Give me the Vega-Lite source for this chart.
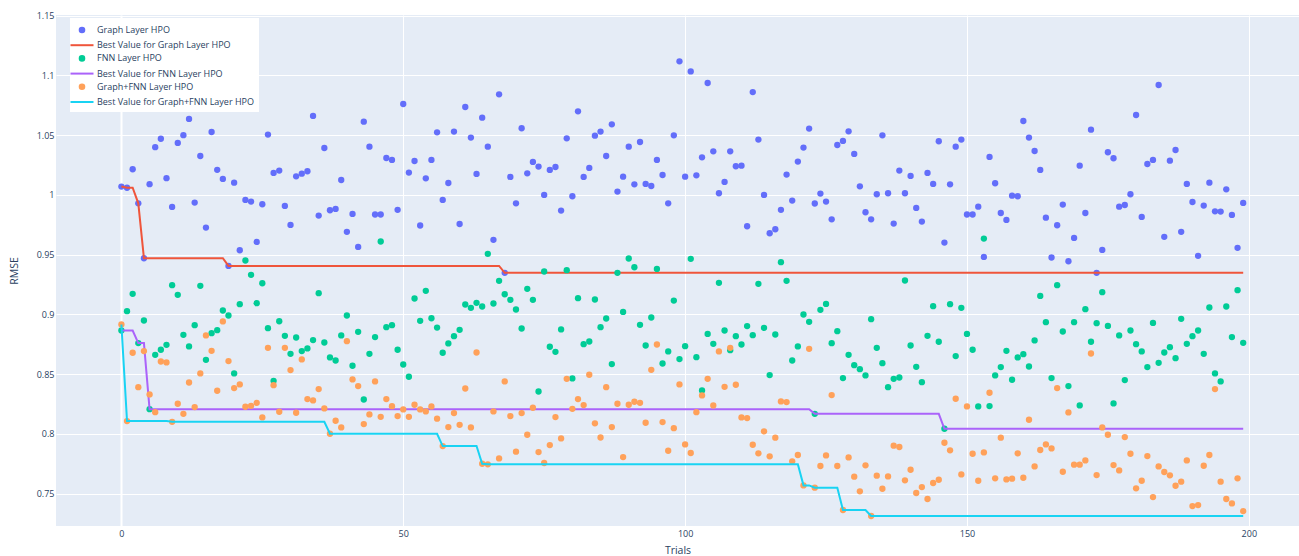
{
"$schema": "https://vega.github.io/schema/vega-lite/v6.json",
"width": 1243,
"height": 511,
"autosize": {"type": "none"},
"padding": {"left": 56, "top": 15, "right": 0, "bottom": 30},
"background": "white",
"config": {"view": {"fill": "#E5ECF6", "stroke": null}, "font": "Open Sans"},
"data": {"values": [
{"t":0,"g":1.007,"gb":1.007,"f":0.8865,"fb":0.8865,"h":0.8916,"hb":0.8916},
{"t":1,"g":1.006,"gb":1.006,"f":0.9027,"fb":0.8865,"h":0.8107,"hb":0.8107},
{"t":2,"g":1.0215,"gb":1.006,"f":0.9172,"fb":0.8865,"h":0.8679,"hb":0.8107},
{"t":3,"g":0.993,"gb":0.993,"f":0.876,"fb":0.876,"h":0.8391,"hb":0.8107},
{"t":4,"g":0.947,"gb":0.947,"f":0.8949,"fb":0.876,"h":0.8693,"hb":0.8107},
{"t":5,"g":1.009,"gb":0.947,"f":0.8207,"fb":0.8207,"h":0.833,"hb":0.8107},
{"t":6,"g":1.04,"gb":0.947,"f":0.8662,"fb":0.8207,"h":0.8182,"hb":0.8107},
{"t":7,"g":1.047,"gb":0.947,"f":0.8704,"fb":0.8207,"h":0.8606,"hb":0.8107},
{"t":8,"g":1.014,"gb":0.947,"f":0.8745,"fb":0.8207,"h":0.8598,"hb":0.8107},
{"t":9,"g":0.99,"gb":0.947,"f":0.9245,"fb":0.8207,"h":0.8101,"hb":0.8101},
{"t":10,"g":1.0435,"gb":0.947,"f":0.9164,"fb":0.8207,"h":0.8252,"hb":0.8101},
{"t":11,"g":1.05,"gb":0.947,"f":0.8829,"fb":0.8207,"h":0.8168,"hb":0.8101},
{"t":12,"g":1.0636,"gb":0.947,"f":0.8732,"fb":0.8207,"h":0.843,"hb":0.8101},
{"t":13,"g":0.9936,"gb":0.947,"f":0.891,"fb":0.8207,"h":0.8224,"hb":0.8101},
{"t":14,"g":1.0326,"gb":0.947,"f":0.9239,"fb":0.8207,"h":0.8506,"hb":0.8101},
{"t":15,"g":0.9727,"gb":0.947,"f":0.862,"fb":0.8207,"h":0.8824,"hb":0.8101},
{"t":16,"g":1.0527,"gb":0.947,"f":0.8843,"fb":0.8207,"h":0.8695,"hb":0.8101},
{"t":17,"g":1.021,"gb":0.947,"f":0.8868,"fb":0.8207,"h":0.8361,"hb":0.8101},
{"t":18,"g":1.0134,"gb":0.947,"f":0.9033,"fb":0.8207,"h":0.8941,"hb":0.8101},
{"t":19,"g":0.9406,"gb":0.9406,"f":0.8991,"fb":0.8207,"h":0.8609,"hb":0.8101},
{"t":20,"g":1.0103,"gb":0.9406,"f":0.8506,"fb":0.8207,"h":0.8383,"hb":0.8101},
{"t":21,"g":0.9537,"gb":0.9406,"f":0.9086,"fb":0.8207,"h":0.8414,"hb":0.8101},
{"t":22,"g":0.9958,"gb":0.9406,"f":0.9451,"fb":0.8207,"h":0.8227,"hb":0.8101},
{"t":23,"g":0.9944,"gb":0.9406,"f":0.9331,"fb":0.8207,"h":0.8235,"hb":0.8101},
{"t":24,"g":0.9607,"gb":0.9406,"f":0.9094,"fb":0.8207,"h":0.826,"hb":0.8101},
{"t":25,"g":0.9922,"gb":0.9406,"f":0.9261,"fb":0.8207,"h":0.8138,"hb":0.8101},
{"t":26,"g":1.0505,"gb":0.9406,"f":0.8885,"fb":0.8207,"h":0.872,"hb":0.8101},
{"t":27,"g":1.0184,"gb":0.9406,"f":0.8444,"fb":0.8207,"h":0.8408,"hb":0.8101},
{"t":28,"g":1.0204,"gb":0.9406,"f":0.8943,"fb":0.8207,"h":0.8185,"hb":0.8101},
{"t":29,"g":0.9908,"gb":0.9406,"f":0.8821,"fb":0.8207,"h":0.872,"hb":0.8101},
{"t":30,"g":0.9749,"gb":0.9406,"f":0.867,"fb":0.8207,"h":0.8534,"hb":0.8101},
{"t":31,"g":1.0156,"gb":0.9406,"f":0.8807,"fb":0.8207,"h":0.8177,"hb":0.8101},
{"t":32,"g":1.0178,"gb":0.9406,"f":0.8693,"fb":0.8207,"h":0.8623,"hb":0.8101},
{"t":33,"g":1.0198,"gb":0.9406,"f":0.8715,"fb":0.8207,"h":0.8291,"hb":0.8101},
{"t":34,"g":1.0661,"gb":0.9406,"f":0.8785,"fb":0.8207,"h":0.828,"hb":0.8101},
{"t":35,"g":0.9827,"gb":0.9406,"f":0.9178,"fb":0.8207,"h":0.8375,"hb":0.8101},
{"t":36,"g":1.0393,"gb":0.9406,"f":0.8765,"fb":0.8207,"h":0.8213,"hb":0.8101},
{"t":37,"g":0.9872,"gb":0.9406,"f":0.864,"fb":0.8207,"h":0.8001,"hb":0.8001},
{"t":38,"g":0.9883,"gb":0.9406,"f":0.8614,"fb":0.8207,"h":0.811,"hb":0.8001},
{"t":39,"g":1.0125,"gb":0.9406,"f":0.8824,"fb":0.8207,"h":0.8054,"hb":0.8001},
{"t":40,"g":0.9691,"gb":0.9406,"f":0.8991,"fb":0.8207,"h":0.8776,"hb":0.8001},
{"t":41,"g":0.9841,"gb":0.9406,"f":0.857,"fb":0.8207,"h":0.8456,"hb":0.8001},
{"t":42,"g":0.9565,"gb":0.9406,"f":0.8854,"fb":0.8207,"h":0.84,"hb":0.8001},
{"t":43,"g":1.0613,"gb":0.9406,"f":0.8288,"fb":0.8207,"h":0.8082,"hb":0.8001},
{"t":44,"g":1.0404,"gb":0.9406,"f":0.867,"fb":0.8207,"h":0.8163,"hb":0.8001},
{"t":45,"g":0.9836,"gb":0.9406,"f":0.881,"fb":0.8207,"h":0.8439,"hb":0.8001},
{"t":46,"g":0.9836,"gb":0.9406,"f":0.961,"fb":0.8207,"h":0.8143,"hb":0.8001},
{"t":47,"g":1.0309,"gb":0.9406,"f":0.8893,"fb":0.8207,"h":0.8291,"hb":0.8001},
{"t":48,"g":1.0293,"gb":0.9406,"f":0.891,"fb":0.8207,"h":0.8232,"hb":0.8001},
{"t":49,"g":0.9875,"gb":0.9406,"f":0.8704,"fb":0.8207,"h":0.8149,"hb":0.8001},
{"t":50,"g":1.0761,"gb":0.9406,"f":0.8581,"fb":0.8207,"h":0.8205,"hb":0.8001},
{"t":51,"g":1.0187,"gb":0.9406,"f":0.8478,"fb":0.8207,"h":0.8143,"hb":0.8001},
{"t":52,"g":1.0284,"gb":0.9406,"f":0.9133,"fb":0.8207,"h":0.8244,"hb":0.8001},
{"t":53,"g":0.9744,"gb":0.9406,"f":0.8946,"fb":0.8207,"h":0.8205,"hb":0.8001},
{"t":54,"g":1.0139,"gb":0.9406,"f":0.9197,"fb":0.8207,"h":0.8188,"hb":0.8001},
{"t":55,"g":1.0293,"gb":0.9406,"f":0.8968,"fb":0.8207,"h":0.823,"hb":0.8001},
{"t":56,"g":1.0524,"gb":0.9406,"f":0.889,"fb":0.8207,"h":0.8127,"hb":0.8001},
{"t":57,"g":0.9958,"gb":0.9406,"f":0.8679,"fb":0.8207,"h":0.7898,"hb":0.7898},
{"t":58,"g":1.01,"gb":0.9406,"f":0.8757,"fb":0.8207,"h":0.8057,"hb":0.7898},
{"t":59,"g":1.053,"gb":0.9406,"f":0.8818,"fb":0.8207,"h":0.8174,"hb":0.7898},
{"t":60,"g":0.9757,"gb":0.9406,"f":0.8871,"fb":0.8207,"h":0.8076,"hb":0.7898},
{"t":61,"g":1.0736,"gb":0.9406,"f":0.9083,"fb":0.8207,"h":0.838,"hb":0.7898},
{"t":62,"g":1.048,"gb":0.9406,"f":0.9055,"fb":0.8207,"h":0.8054,"hb":0.7898},
{"t":63,"g":1.0176,"gb":0.9406,"f":0.9097,"fb":0.8207,"h":0.8681,"hb":0.7898},
{"t":64,"g":1.0647,"gb":0.9406,"f":0.9066,"fb":0.8207,"h":0.775,"hb":0.775},
{"t":65,"g":1.0404,"gb":0.9406,"f":0.9507,"fb":0.8207,"h":0.7745,"hb":0.7745},
{"t":66,"g":0.9624,"gb":0.9406,"f":0.9091,"fb":0.8207,"h":0.8188,"hb":0.7745},
{"t":67,"g":1.0842,"gb":0.9406,"f":0.9281,"fb":0.8207,"h":0.7795,"hb":0.7745},
{"t":68,"g":0.9348,"gb":0.9348,"f":0.9169,"fb":0.8207,"h":0.8439,"hb":0.7745},
{"t":69,"g":1.0151,"gb":0.9348,"f":0.9122,"fb":0.8207,"h":0.8149,"hb":0.7745},
{"t":70,"g":0.993,"gb":0.9348,"f":0.9041,"fb":0.8207,"h":0.7851,"hb":0.7745},
{"t":71,"g":1.0558,"gb":0.9348,"f":0.8882,"fb":0.8207,"h":0.8174,"hb":0.7745},
{"t":72,"g":1.0181,"gb":0.9348,"f":0.9214,"fb":0.8207,"h":0.7993,"hb":0.7745},
{"t":73,"g":1.0276,"gb":0.9348,"f":0.9122,"fb":0.8207,"h":0.8219,"hb":0.7745},
{"t":74,"g":1.0237,"gb":0.9348,"f":0.8355,"fb":0.8207,"h":0.7848,"hb":0.7745},
{"t":75,"g":1.0,"gb":0.9348,"f":0.9359,"fb":0.8207,"h":0.7756,"hb":0.7745},
{"t":76,"g":1.0209,"gb":0.9348,"f":0.8729,"fb":0.8207,"h":0.7906,"hb":0.7745},
{"t":77,"g":1.0234,"gb":0.9348,"f":0.8687,"fb":0.8207,"h":0.8141,"hb":0.7745},
{"t":78,"g":0.9869,"gb":0.9348,"f":0.8874,"fb":0.8207,"h":0.7962,"hb":0.7745},
{"t":79,"g":1.0474,"gb":0.9348,"f":0.937,"fb":0.8207,"h":0.8461,"hb":0.7745},
{"t":80,"g":0.9989,"gb":0.9348,"f":0.8464,"fb":0.8207,"h":0.821,"hb":0.7745},
{"t":81,"g":1.07,"gb":0.9348,"f":0.9136,"fb":0.8207,"h":0.8291,"hb":0.7745},
{"t":82,"g":1.0151,"gb":0.9348,"f":0.8751,"fb":0.8207,"h":0.8241,"hb":0.7745},
{"t":83,"g":1.0226,"gb":0.9348,"f":0.8773,"fb":0.8207,"h":0.8495,"hb":0.7745},
{"t":84,"g":1.0496,"gb":0.9348,"f":0.9125,"fb":0.8207,"h":0.8088,"hb":0.7745},
{"t":85,"g":1.053,"gb":0.9348,"f":0.8893,"fb":0.8207,"h":0.797,"hb":0.7745},
{"t":86,"g":1.0326,"gb":0.9348,"f":0.8966,"fb":0.8207,"h":0.8391,"hb":0.7745},
{"t":87,"g":1.0591,"gb":0.9348,"f":0.8584,"fb":0.8207,"h":0.8057,"hb":0.7745},
{"t":88,"g":1.0028,"gb":0.9348,"f":0.9348,"fb":0.8207,"h":0.8252,"hb":0.7745},
{"t":89,"g":1.0153,"gb":0.9348,"f":0.9021,"fb":0.8207,"h":0.7806,"hb":0.7745},
{"t":90,"g":1.0404,"gb":0.9348,"f":0.9468,"fb":0.8207,"h":0.8244,"hb":0.7745},
{"t":91,"g":1.0089,"gb":0.9348,"f":0.9395,"fb":0.8207,"h":0.8269,"hb":0.7745},
{"t":92,"g":1.0443,"gb":0.9348,"f":0.8913,"fb":0.8207,"h":0.826,"hb":0.7745},
{"t":93,"g":1.0092,"gb":0.9348,"f":0.874,"fb":0.8207,"h":0.8093,"hb":0.7745},
{"t":94,"g":1.0075,"gb":0.9348,"f":0.8974,"fb":0.8207,"h":0.8536,"hb":0.7745},
{"t":95,"g":1.0293,"gb":0.9348,"f":0.9381,"fb":0.8207,"h":0.8748,"hb":0.7745},
{"t":96,"g":1.0167,"gb":0.9348,"f":0.8589,"fb":0.8207,"h":0.8099,"hb":0.7745},
{"t":97,"g":0.993,"gb":0.9348,"f":0.869,"fb":0.8207,"h":0.7859,"hb":0.7745},
{"t":98,"g":1.0499,"gb":0.9348,"f":0.9116,"fb":0.8207,"h":0.8048,"hb":0.7745},
{"t":99,"g":1.1118,"gb":0.9348,"f":0.8626,"fb":0.8207,"h":0.8414,"hb":0.7745},
{"t":100,"g":1.0153,"gb":0.9348,"f":0.8734,"fb":0.8207,"h":0.7912,"hb":0.7745},
{"t":101,"g":1.1034,"gb":0.9348,"f":0.9465,"fb":0.8207,"h":0.784,"hb":0.7745},
{"t":102,"g":1.0164,"gb":0.9348,"f":0.8642,"fb":0.8207,"h":0.8182,"hb":0.7745},
{"t":103,"g":1.0315,"gb":0.9348,"f":0.8363,"fb":0.8207,"h":0.8322,"hb":0.7745},
{"t":104,"g":1.0937,"gb":0.9348,"f":0.8837,"fb":0.8207,"h":0.8461,"hb":0.7745},
{"t":105,"g":1.0365,"gb":0.9348,"f":0.8754,"fb":0.8207,"h":0.8238,"hb":0.7745},
{"t":106,"g":1.0014,"gb":0.9348,"f":0.9264,"fb":0.8207,"h":0.869,"hb":0.7745},
{"t":107,"g":1.0109,"gb":0.9348,"f":0.8865,"fb":0.8207,"h":0.8394,"hb":0.7745},
{"t":108,"g":1.0365,"gb":0.9348,"f":0.8701,"fb":0.8207,"h":0.872,"hb":0.7745},
{"t":109,"g":1.024,"gb":0.9348,"f":0.8818,"fb":0.8207,"h":0.8411,"hb":0.7745},
{"t":110,"g":1.0245,"gb":0.9348,"f":0.8748,"fb":0.8207,"h":0.8138,"hb":0.7745},
{"t":111,"g":0.9738,"gb":0.9348,"f":0.8902,"fb":0.8207,"h":0.8132,"hb":0.7745},
{"t":112,"g":1.0861,"gb":0.9348,"f":0.8826,"fb":0.8207,"h":0.7909,"hb":0.7745},
{"t":113,"g":1.0463,"gb":0.9348,"f":0.9256,"fb":0.8207,"h":0.7837,"hb":0.7745},
{"t":114,"g":1.0,"gb":0.9348,"f":0.8888,"fb":0.8207,"h":0.8021,"hb":0.7745},
{"t":115,"g":0.9679,"gb":0.9348,"f":0.8492,"fb":0.8207,"h":0.7812,"hb":0.7745},
{"t":116,"g":0.9713,"gb":0.9348,"f":0.8832,"fb":0.8207,"h":0.7968,"hb":0.7745},
{"t":117,"g":0.9875,"gb":0.9348,"f":0.9437,"fb":0.8207,"h":0.8272,"hb":0.7745},
{"t":118,"g":1.017,"gb":0.9348,"f":0.9281,"fb":0.8207,"h":0.8266,"hb":0.7745},
{"t":119,"g":0.9953,"gb":0.9348,"f":0.8614,"fb":0.8207,"h":0.777,"hb":0.7745},
{"t":120,"g":1.0279,"gb":0.9348,"f":0.8732,"fb":0.8207,"h":0.7823,"hb":0.7745},
{"t":121,"g":1.0396,"gb":0.9348,"f":0.8999,"fb":0.8207,"h":0.7569,"hb":0.7569},
{"t":122,"g":1.0555,"gb":0.9348,"f":0.8938,"fb":0.8207,"h":0.8712,"hb":0.7569},
{"t":123,"g":0.9928,"gb":0.9348,"f":0.8168,"fb":0.8168,"h":0.755,"hb":0.755},
{"t":124,"g":1.0011,"gb":0.9348,"f":0.9038,"fb":0.8168,"h":0.7731,"hb":0.755},
{"t":125,"g":0.9944,"gb":0.9348,"f":0.9088,"fb":0.8168,"h":0.782,"hb":0.755},
{"t":126,"g":0.9796,"gb":0.9348,"f":0.8759,"fb":0.8168,"h":0.8325,"hb":0.755},
{"t":127,"g":1.0418,"gb":0.9348,"f":0.886,"fb":0.8168,"h":0.7731,"hb":0.755},
{"t":128,"g":1.0452,"gb":0.9348,"f":0.8467,"fb":0.8168,"h":0.7363,"hb":0.7363},
{"t":129,"g":1.0532,"gb":0.9348,"f":0.8662,"fb":0.8168,"h":0.7803,"hb":0.7363},
{"t":130,"g":1.0343,"gb":0.9348,"f":0.8575,"fb":0.8168,"h":0.7642,"hb":0.7363},
{"t":131,"g":1.0072,"gb":0.9348,"f":0.8542,"fb":0.8168,"h":0.7519,"hb":0.7363},
{"t":132,"g":0.9855,"gb":0.9348,"f":0.8489,"fb":0.8168,"h":0.7737,"hb":0.7363},
{"t":133,"g":0.9796,"gb":0.9348,"f":0.896,"fb":0.8168,"h":0.7313,"hb":0.7313},
{"t":134,"g":1.0006,"gb":0.9348,"f":0.872,"fb":0.8168,"h":0.765,"hb":0.7313},
{"t":135,"g":1.0499,"gb":0.9348,"f":0.8592,"fb":0.8168,"h":0.7541,"hb":0.7313},
{"t":136,"g":1.0014,"gb":0.9348,"f":0.8391,"fb":0.8168,"h":0.7644,"hb":0.7313},
{"t":137,"g":0.976,"gb":0.9348,"f":0.8461,"fb":0.8168,"h":0.7901,"hb":0.7313},
{"t":138,"g":1.0204,"gb":0.9348,"f":0.8472,"fb":0.8168,"h":0.789,"hb":0.7313},
{"t":139,"g":1.0014,"gb":0.9348,"f":0.9284,"fb":0.8168,"h":0.7611,"hb":0.7313},
{"t":140,"g":1.0159,"gb":0.9348,"f":0.874,"fb":0.8168,"h":0.77,"hb":0.7313},
{"t":141,"g":0.9891,"gb":0.9348,"f":0.8561,"fb":0.8168,"h":0.7505,"hb":0.7313},
{"t":142,"g":0.9777,"gb":0.9348,"f":0.8433,"fb":0.8168,"h":0.7555,"hb":0.7313},
{"t":143,"g":1.0184,"gb":0.9348,"f":0.8821,"fb":0.8168,"h":0.7455,"hb":0.7313},
{"t":144,"g":1.0092,"gb":0.9348,"f":0.9069,"fb":0.8168,"h":0.7589,"hb":0.7313},
{"t":145,"g":1.0449,"gb":0.9348,"f":0.8771,"fb":0.8168,"h":0.7616,"hb":0.7313},
{"t":146,"g":0.9601,"gb":0.9348,"f":0.8043,"fb":0.8043,"h":0.7926,"hb":0.7313},
{"t":147,"g":1.0089,"gb":0.9348,"f":0.9086,"fb":0.8043,"h":0.7862,"hb":0.7313},
{"t":148,"g":1.0404,"gb":0.9348,"f":0.8651,"fb":0.8043,"h":0.8294,"hb":0.7313},
{"t":149,"g":1.0463,"gb":0.9348,"f":0.9055,"fb":0.8043,"h":0.7661,"hb":0.7313},
{"t":150,"g":0.9836,"gb":0.9348,"f":0.8837,"fb":0.8043,"h":0.823,"hb":0.7313},
{"t":151,"g":0.9836,"gb":0.9348,"f":0.8704,"fb":0.8043,"h":0.7834,"hb":0.7313},
{"t":152,"g":0.9902,"gb":0.9348,"f":0.823,"fb":0.8043,"h":0.7608,"hb":0.7313},
{"t":153,"g":0.9481,"gb":0.9348,"f":0.9635,"fb":0.8043,"h":0.7845,"hb":0.7313},
{"t":154,"g":1.0318,"gb":0.9348,"f":0.8233,"fb":0.8043,"h":0.8344,"hb":0.7313},
{"t":155,"g":1.0098,"gb":0.9348,"f":0.8489,"fb":0.8043,"h":0.7628,"hb":0.7313},
{"t":156,"g":0.9849,"gb":0.9348,"f":0.8559,"fb":0.8043,"h":0.7968,"hb":0.7313},
{"t":157,"g":0.9791,"gb":0.9348,"f":0.8695,"fb":0.8043,"h":0.7619,"hb":0.7313},
{"t":158,"g":0.9994,"gb":0.9348,"f":0.8453,"fb":0.8043,"h":0.7625,"hb":0.7313},
{"t":159,"g":0.9989,"gb":0.9348,"f":0.864,"fb":0.8043,"h":0.7837,"hb":0.7313},
{"t":160,"g":1.0619,"gb":0.9348,"f":0.8667,"fb":0.8043,"h":0.7633,"hb":0.7313},
{"t":161,"g":1.048,"gb":0.9348,"f":0.8564,"fb":0.8043,"h":0.8118,"hb":0.7313},
{"t":162,"g":1.0368,"gb":0.9348,"f":0.8782,"fb":0.8043,"h":0.7728,"hb":0.7313},
{"t":163,"g":1.0209,"gb":0.9348,"f":0.9155,"fb":0.8043,"h":0.7865,"hb":0.7313},
{"t":164,"g":0.981,"gb":0.9348,"f":0.8935,"fb":0.8043,"h":0.7912,"hb":0.7313},
{"t":165,"g":0.9476,"gb":0.9348,"f":0.8467,"fb":0.8043,"h":0.7878,"hb":0.7313},
{"t":166,"g":0.9746,"gb":0.9348,"f":0.9245,"fb":0.8043,"h":0.8383,"hb":0.7313},
{"t":167,"g":0.9919,"gb":0.9348,"f":0.8857,"fb":0.8043,"h":0.7683,"hb":0.7313},
{"t":168,"g":0.9445,"gb":0.9348,"f":0.84,"fb":0.8043,"h":0.818,"hb":0.7313},
{"t":169,"g":0.964,"gb":0.9348,"f":0.8935,"fb":0.8043,"h":0.7742,"hb":0.7313},
{"t":170,"g":1.0245,"gb":0.9348,"f":0.8238,"fb":0.8043,"h":0.7742,"hb":0.7313},
{"t":171,"g":0.9849,"gb":0.9348,"f":0.9044,"fb":0.8043,"h":0.7778,"hb":0.7313},
{"t":172,"g":1.0546,"gb":0.9348,"f":0.8771,"fb":0.8043,"h":0.8673,"hb":0.7313},
{"t":173,"g":0.9348,"gb":0.9348,"f":0.8927,"fb":0.8043,"h":0.7655,"hb":0.7313},
{"t":174,"g":0.954,"gb":0.9348,"f":0.9186,"fb":0.8043,"h":0.8054,"hb":0.7313},
{"t":175,"g":1.0357,"gb":0.9348,"f":0.8904,"fb":0.8043,"h":0.7993,"hb":0.7313},
{"t":176,"g":1.0307,"gb":0.9348,"f":0.8255,"fb":0.8043,"h":0.7739,"hb":0.7313},
{"t":177,"g":0.9902,"gb":0.9348,"f":0.8824,"fb":0.8043,"h":0.7694,"hb":0.7313},
{"t":178,"g":0.9916,"gb":0.9348,"f":0.845,"fb":0.8043,"h":0.7973,"hb":0.7313},
{"t":179,"g":1.0006,"gb":0.9348,"f":0.8865,"fb":0.8043,"h":0.7834,"hb":0.7313},
{"t":180,"g":1.0669,"gb":0.9348,"f":0.8751,"fb":0.8043,"h":0.7544,"hb":0.7313},
{"t":181,"g":0.9816,"gb":0.9348,"f":0.869,"fb":0.8043,"h":0.7608,"hb":0.7313},
{"t":182,"g":1.0259,"gb":0.9348,"f":0.8559,"fb":0.8043,"h":0.7814,"hb":0.7313},
{"t":183,"g":1.0293,"gb":0.9348,"f":0.8929,"fb":0.8043,"h":0.7471,"hb":0.7313},
{"t":184,"g":1.092,"gb":0.9348,"f":0.8595,"fb":0.8043,"h":0.7728,"hb":0.7313},
{"t":185,"g":0.9649,"gb":0.9348,"f":0.8681,"fb":0.8043,"h":0.7681,"hb":0.7313},
{"t":186,"g":1.0287,"gb":0.9348,"f":0.8726,"fb":0.8043,"h":0.7653,"hb":0.7313},
{"t":187,"g":1.0376,"gb":0.9348,"f":0.8634,"fb":0.8043,"h":0.7566,"hb":0.7313},
{"t":188,"g":0.9691,"gb":0.9348,"f":0.8963,"fb":0.8043,"h":0.76,"hb":0.7313},
{"t":189,"g":1.0092,"gb":0.9348,"f":0.8754,"fb":0.8043,"h":0.7778,"hb":0.7313},
{"t":190,"g":0.9941,"gb":0.9348,"f":0.8818,"fb":0.8043,"h":0.7396,"hb":0.7313},
{"t":191,"g":0.949,"gb":0.9348,"f":0.8865,"fb":0.8043,"h":0.7404,"hb":0.7313},
{"t":192,"g":0.9911,"gb":0.9348,"f":0.867,"fb":0.8043,"h":0.7733,"hb":0.7313},
{"t":193,"g":1.0103,"gb":0.9348,"f":0.9058,"fb":0.8043,"h":0.7823,"hb":0.7313},
{"t":194,"g":0.9863,"gb":0.9348,"f":0.8506,"fb":0.8043,"h":0.8375,"hb":0.7313},
{"t":195,"g":0.9861,"gb":0.9348,"f":0.8439,"fb":0.8043,"h":0.76,"hb":0.7313},
{"t":196,"g":1.0047,"gb":0.9348,"f":0.9066,"fb":0.8043,"h":0.7455,"hb":0.7313},
{"t":197,"g":0.9833,"gb":0.9348,"f":0.881,"fb":0.8043,"h":0.7418,"hb":0.7313},
{"t":198,"g":0.9557,"gb":0.9348,"f":0.9203,"fb":0.8043,"h":0.7628,"hb":0.7313},
{"t":199,"g":0.9933,"gb":0.9348,"f":0.8762,"fb":0.8043,"h":0.7354,"hb":0.7313}
]},
"encoding": {
  "x": {"field": "t", "type": "quantitative",
    "scale": {"domain": [-11.6, 208.9], "nice": false, "zero": false},
    "axis": {"title": "Trials", "values": [0, 50, 100, 150, 200], "grid": true, "gridColor": "white",
      "gridWidth": {"condition": {"test": "datum.value === 0", "value": 2}, "value": 1},
      "domain": false, "ticks": false, "labelPadding": 3, "labelFont": "Open Sans", "labelFontSize": 9, "labelColor": "#2a3f5f",
      "titleFont": "Open Sans", "titleFontSize": 10.5, "titleFontWeight": "normal", "titleColor": "#2a3f5f", "titlePadding": 7.5}},
  "y": {"field": "v", "type": "quantitative",
    "scale": {"domain": [0.7229, 1.1506], "nice": false, "zero": false},
    "axis": {"title": "RMSE", "values": [0.75, 0.8, 0.85, 0.9, 0.95, 1, 1.05, 1.1, 1.15], "format": "~g", "grid": true, "gridColor": "white", "gridWidth": 1,
      "domain": false, "ticks": false, "labelPadding": 2, "labelFont": "Open Sans", "labelFontSize": 9, "labelColor": "#2a3f5f",
      "titleFont": "Open Sans", "titleFontSize": 10.5, "titleFontWeight": "normal", "titleColor": "#2a3f5f", "titlePadding": 16.5}}
},
"layer": [
  {"transform": [{"fold": ["g"], "as": ["s", "v"]}], "mark": {"type": "point", "filled": true, "size": 40, "opacity": 1, "color": "#636efa"}},
  {"transform": [{"fold": ["gb"], "as": ["s", "v"]}], "mark": {"type": "line", "strokeWidth": 2, "color": "#EF553B"}, "encoding": {}},
  {"transform": [{"fold": ["f"], "as": ["s", "v"]}], "mark": {"type": "point", "filled": true, "size": 40, "opacity": 1, "color": "#00cc96"}},
  {"transform": [{"fold": ["fb"], "as": ["s", "v"]}], "mark": {"type": "line", "strokeWidth": 2, "color": "#ab63fa"}, "encoding": {}},
  {"transform": [{"fold": ["h"], "as": ["s", "v"]}], "mark": {"type": "point", "filled": true, "size": 40, "opacity": 1, "color": "#FFA15A"}},
  {"transform": [{"fold": ["hb"], "as": ["s", "v"]}], "mark": {"type": "line", "strokeWidth": 2, "color": "#19d3f3"}, "encoding": {}},
  {"data": {"values": [
      {"s": "Graph Layer HPO"}, {"s": "Best Value for Graph Layer HPO"}, {"s": "FNN Layer HPO"},
      {"s": "Best Value for FNN Layer HPO"}, {"s": "Graph+FNN Layer HPO"}, {"s": "Best Value for Graph+FNN Layer HPO"}]},
   "mark": {"type": "point", "filled": true, "opacity": 1, "strokeWidth": 2},
   "encoding": {
     "fill": {"field": "s", "type": "nominal",
       "scale": {"domain": ["Graph Layer HPO", "Best Value for Graph Layer HPO", "FNN Layer HPO", "Best Value for FNN Layer HPO", "Graph+FNN Layer HPO", "Best Value for Graph+FNN Layer HPO"],
                 "range": ["#636efa", "#EF553B", "#00cc96", "#ab63fa", "#FFA15A", "#19d3f3"]},
       "legend": {"title": null, "orient": "none", "legendX": 14, "legendY": 3, "fillColor": "white", "padding": 5, "rowPadding": 1.2, "labelOffset": 8, "symbolSize": 132.25, "symbolStrokeWidth": 2, "labelFont": "Open Sans", "labelFontSize": 9, "labelColor": "#2a3f5f", "labelLimit": 400}},
     "stroke": {"field": "s", "type": "nominal",
       "scale": {"domain": ["Graph Layer HPO", "Best Value for Graph Layer HPO", "FNN Layer HPO", "Best Value for FNN Layer HPO", "Graph+FNN Layer HPO", "Best Value for Graph+FNN Layer HPO"],
                 "range": ["#636efa", "#EF553B", "#00cc96", "#ab63fa", "#FFA15A", "#19d3f3"]},
       "legend": {"title": null, "orient": "none", "legendX": 14, "legendY": 3, "fillColor": "white", "padding": 5, "rowPadding": 1.2, "labelOffset": 8, "symbolSize": 132.25, "symbolStrokeWidth": 2, "labelFont": "Open Sans", "labelFontSize": 9, "labelColor": "#2a3f5f", "labelLimit": 400}},
     "shape": {"field": "s", "type": "nominal",
       "scale": {"domain": ["Graph Layer HPO", "Best Value for Graph Layer HPO", "FNN Layer HPO", "Best Value for FNN Layer HPO", "Graph+FNN Layer HPO", "Best Value for Graph+FNN Layer HPO"],
                 "range": ["M0.4,0A0.4,0.4,0,1,1,-0.4,0A0.4,0.4,0,1,1,0.4,0Z", "M-2,0L2,0", "M0.4,0A0.4,0.4,0,1,1,-0.4,0A0.4,0.4,0,1,1,0.4,0Z", "M-2,0L2,0", "M0.4,0A0.4,0.4,0,1,1,-0.4,0A0.4,0.4,0,1,1,0.4,0Z", "M-2,0L2,0"]},
       "legend": {"title": null, "orient": "none", "legendX": 14, "legendY": 3, "fillColor": "white", "padding": 5, "rowPadding": 1.2, "labelOffset": 8, "symbolSize": 132.25, "symbolStrokeWidth": 2, "labelFont": "Open Sans", "labelFontSize": 9, "labelColor": "#2a3f5f", "labelLimit": 400}}
   }}
]
}
